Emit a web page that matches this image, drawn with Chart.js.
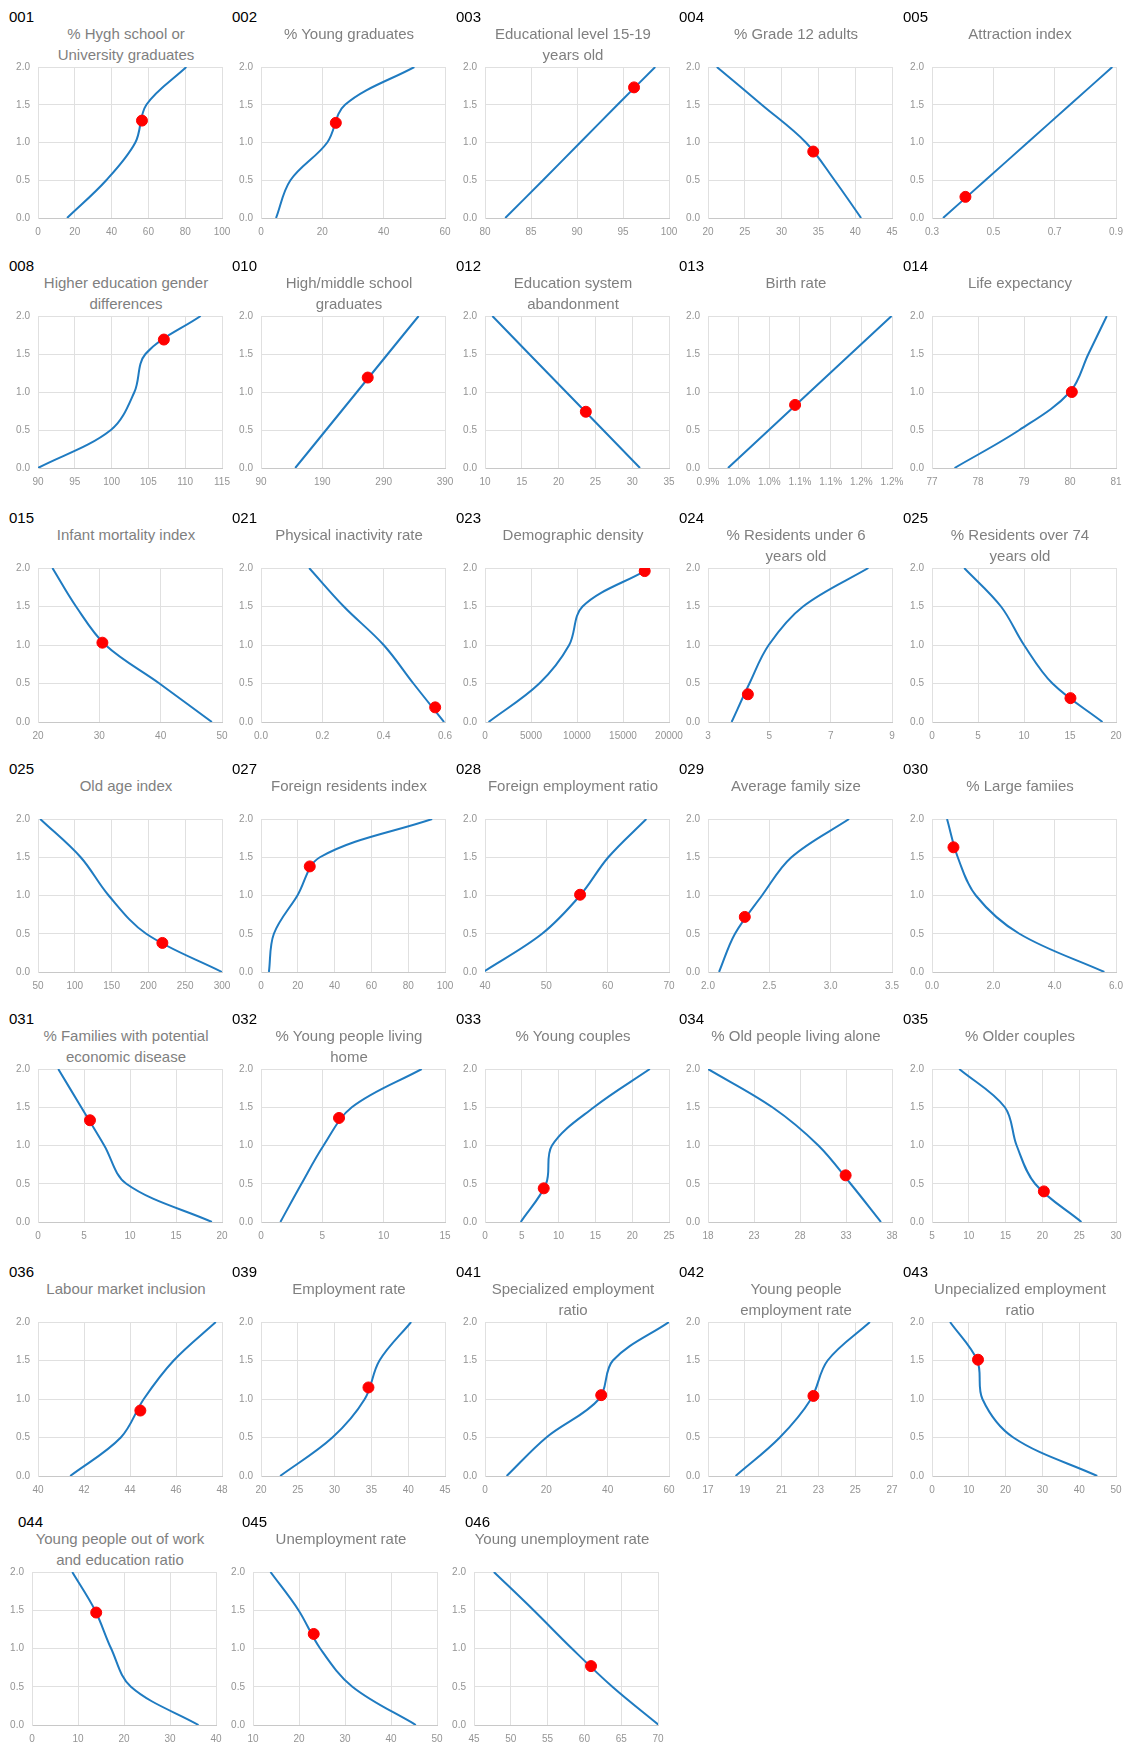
<!DOCTYPE html>
<html>
<head>
<meta charset="utf-8">
<title>Indicator scoring curves</title>
<script src="https://cdn.jsdelivr.net/npm/chart.js@4.4.0/dist/chart.umd.min.js"></script>
<style>
  body { margin: 0; background: #fff; width: 1126px; height: 1746px; position: relative; overflow: hidden;
         font-family: "Liberation Sans", Arial, sans-serif; }
  .num { position: absolute; font-size: 15px; line-height: 16px; color: #000; }
  .ttl { position: absolute; width: 230px; font-size: 15px; line-height: 20.5px; color: #7f7f7f;
         text-align: center; white-space: nowrap; }
  canvas { position: absolute; }
</style>
</head>
<body>
<script>
// chart data
const panelIds = ["001", "002", "003", "004", "005",
                  "008", "010", "012", "013", "014",
                  "015", "021", "023", "024", "025",
                  "025", "027", "028", "029", "030",
                  "031", "032", "033", "034", "035",
                  "036", "039", "041", "042", "043",
                  "044", "045", "046"];

const panelTitles = [
  ["% Hygh school or", "University graduates"], ["% Young graduates"], ["Educational level 15-19", "years old"],
  ["% Grade 12 adults"], ["Attraction index"],
  ["Higher education gender", "differences"], ["High/middle school", "graduates"], ["Education system", "abandonment"],
  ["Birth rate"], ["Life expectancy"],
  ["Infant mortality index"], ["Physical inactivity rate"], ["Demographic density"],
  ["% Residents under 6", "years old"], ["% Residents over 74", "years old"],
  ["Old age index"], ["Foreign residents index"], ["Foreign employment ratio"], ["Average family size"], ["% Large famiies"],
  ["% Families with potential", "economic disease"], ["% Young people living", "home"], ["% Young couples"],
  ["% Old people living alone"], ["% Older couples"],
  ["Labour market inclusion"], ["Employment rate"], ["Specialized employment", "ratio"],
  ["Young people", "employment rate"], ["Unpecialized employment", "ratio"],
  ["Young people out of work", "and education ratio"], ["Unemployment rate"], ["Young unemployment rate"]
];

// x axis: min, max, step, decimals ("%" = percent with one decimal)
const xMin  = [0, 0, 80, 20, 0.3,   90, 90, 10, 0.009, 77,   20, 0, 0, 3, 0,   50, 0, 40, 2, 0,
               0, 0, 0, 18, 5,   40, 20, 0, 17, 0,   0, 10, 45];
const xMax  = [100, 60, 100, 45, 0.9,   115, 390, 35, 0.012, 81,   50, 0.6, 20000, 9, 20,   300, 100, 70, 3.5, 6,
               20, 15, 25, 38, 30,   48, 45, 60, 27, 50,   40, 50, 70];
const xStep = [20, 20, 5, 5, 0.2,   5, 100, 5, 0.0005, 1,   10, 0.2, 5000, 2, 5,   50, 20, 10, 0.5, 2,
               5, 5, 5, 5, 5,   2, 5, 20, 2, 10,   10, 10, 5];
const xDecimals = [0, 0, 0, 0, 1,   0, 0, 0, "%", 0,   0, 1, 0, 0, 0,   0, 0, 0, 1, 1,
                   0, 0, 0, 0, 0,   0, 0, 0, 0, 0,   0, 0, 0];

// score levels of the curve knots
const LEVELS = [0, 0.5, 1, 1.5, 2];
const LEVELS_023 = [0, 0.5, 1, 1.5, 1.96];

const curveX = [
  [15.8, 37.1, 52.9, 58.9, 80.6],
  [4.9, 9.6, 21.6, 27.4, 50],
  [82.2, 86.3, 90.35, 94.4, 98.5],
  [40.8, 37.2, 33.3, 27.3, 21.2],
  [0.336, 0.474, 0.612, 0.750, 0.888],
  [90, 99.9, 103.1, 104.6, 112.1],
  [145.8, 196.1, 246.4, 296.7, 347],
  [31.06, 26.05, 21.03, 16.0, 11.0],
  [0.009326, 0.009993, 0.010659, 0.011326, 0.011993],
  [77.49, 78.9, 80.0, 80.4, 80.8],
  [48.35, 39.8, 31.0, 26.2, 22.35],
  [0.597, 0.497, 0.40, 0.27, 0.157],
  [390, 5900, 9150, 10600, 17350],
  [3.77, 4.35, 4.98, 6.1, 8.23],
  [18.53, 13.1, 10.0, 7.5, 3.5],
  [300, 197, 146, 108, 53],
  [4.3, 7.0, 19.8, 32, 93],
  [39.7, 49.3, 55.5, 60.1, 66.3],
  [2.09, 2.22, 2.44, 2.68, 3.15],
  [5.62, 2.85, 1.43, 0.84, 0.49],
  [18.9, 9.6, 7.2, 4.7, 2.2],
  [1.58, 3.3, 5.1, 7.4, 13.1],
  [4.86, 8.3, 9.1, 14.8, 22.4],
  [36.8, 33.5, 30.0, 25.0, 18.0],
  [25.3, 19.0, 16.5, 14.9, 8.7],
  [41.4, 43.6, 44.6, 45.9, 47.73],
  [22.6, 29.7, 34.1, 36.1, 40.4],
  [7.06, 20, 37.2, 41.7, 60],
  [18.5, 20.9, 22.6, 23.5, 25.8],
  [44.9, 22.1, 13.7, 12.3, 4.9],
  [36.2, 21.5, 17.2, 13.7, 8.75],
  [45.4, 31.6, 24.6, 19.9, 13.8],
  [70.1, 63.8, 58.3, 53.1, 47.7]
];
const curveY = curveX.map((_, i) => (i === 12 ? LEVELS_023 : LEVELS));

// red dot: the current value
const markerX = [56.5, 24.4, 96.2, 34.3, 0.409,   107.1, 264, 23.7, 0.01042, 80.04,
                 30.5, 0.568, 17360, 4.30, 15.05,   219, 26.5, 55.5, 2.30, 0.70,
                 5.65, 6.36, 7.98, 32.96, 20.2,   44.45, 34.6, 37.9, 22.73, 12.5,
                 13.96, 23.2, 60.9];
const markerY = [1.29, 1.26, 1.73, 0.88, 0.28,   1.69, 1.19, 0.74, 0.83, 1.0,
                 1.03, 0.19, 1.96, 0.36, 0.31,   0.38, 1.38, 1.01, 0.72, 1.63,
                 1.33, 1.36, 0.44, 0.61, 0.40,   0.85, 1.15, 1.05, 1.04, 1.51,
                 1.47, 1.19, 0.77];

// page layout (pixels)
const COL_LEFT = [38, 261, 485, 708, 932];
const LAST_ROW_LEFT = [32, 253, 474];
const LAST_ROW_NUM_LEFT = [18, 242, 465];
const ROW_TOP = [67, 316, 568, 819, 1069, 1322, 1572];
const ROW_BOTTOM = [218, 468, 722, 972, 1222, 1476, 1725];
const PLOT_W = 184;
const AXIS_W = 37, PAD_T = 8, PAD_R = 14, AXIS_H = 22;

const LINE_BLUE = "#1f7bc1";
const GRID = "#e0e0e0";
const TICK_GREY = "#949494";

function fmtX(i, v) {
  const d = xDecimals[i];
  if (d === "%") return (Math.round(v * 1000 + 1e-6) / 10).toFixed(1) + "%";
  return (v + 1e-9).toFixed(d);
}

function addText(cls, left, top, text) {
  const el = document.createElement("div");
  el.className = cls;
  el.style.left = left + "px";
  el.style.top = top + "px";
  el.innerHTML = text;
  document.body.appendChild(el);
}

panelIds.forEach((id, i) => {
  const row = Math.floor(i / 5), col = i % 5;
  const last = row === 6;
  const left = last ? LAST_ROW_LEFT[col] : COL_LEFT[col];
  const top = ROW_TOP[row];
  const plotH = ROW_BOTTOM[row] - top;

  addText("num", last ? LAST_ROW_NUM_LEFT[col] : left - 29, top - 58, id);
  addText("ttl", left + PLOT_W / 2 - 4 - 115, top - 43, panelTitles[i].join("<br>"));

  const canvas = document.createElement("canvas");
  canvas.width = AXIS_W + PLOT_W + PAD_R;
  canvas.height = PAD_T + plotH + AXIS_H;
  canvas.style.left = (left - AXIS_W) + "px";
  canvas.style.top = (top - PAD_T) + "px";
  document.body.appendChild(canvas);

  const curve = curveX[i].map((x, k) => ({ x: x, y: curveY[i][k] }));

  new Chart(canvas.getContext("2d"), {
    type: "scatter",
    data: {
      datasets: [
        {
          data: [{ x: markerX[i], y: markerY[i] }],
          pointRadius: 5.5,
          pointBackgroundColor: "#ff0000",
          pointBorderColor: "#ff0000",
          order: 0
        },
        {
          data: curve,
          showLine: true,
          borderColor: LINE_BLUE,
          borderWidth: 2,
          pointRadius: 0,
          tension: 0.35,
          order: 1
        }
      ]
    },
    options: {
      responsive: false,
      animation: false,
      layout: { padding: { top: PAD_T, right: PAD_R, left: 0, bottom: 0 } },
      plugins: { legend: { display: false }, tooltip: { enabled: false } },
      scales: {
        x: {
          type: "linear",
          min: xMin[i],
          max: xMax[i],
          afterFit: (s) => { s.height = AXIS_H; s.paddingLeft = 0; s.paddingRight = 0; },
          grid: { color: GRID, drawTicks: false },
          border: { color: "#c8c8c8" },
          ticks: {
            stepSize: xStep[i],
            autoSkip: false,
            maxRotation: 0,
            padding: 8,
            color: TICK_GREY,
            font: { family: "Liberation Sans", size: 10 },
            callback: (v) => fmtX(i, v)
          }
        },
        y: {
          min: 0,
          max: 2,
          afterFit: (s) => { s.width = AXIS_W; s.paddingTop = 0; s.paddingBottom = 0; },
          grid: { color: GRID, drawTicks: false },
          border: { color: GRID },
          ticks: {
            stepSize: 0.5,
            padding: 8,
            color: TICK_GREY,
            font: { family: "Liberation Sans", size: 10 },
            callback: (v) => v.toFixed(1)
          }
        }
      }
    }
  });
});
</script>
</body>
</html>
